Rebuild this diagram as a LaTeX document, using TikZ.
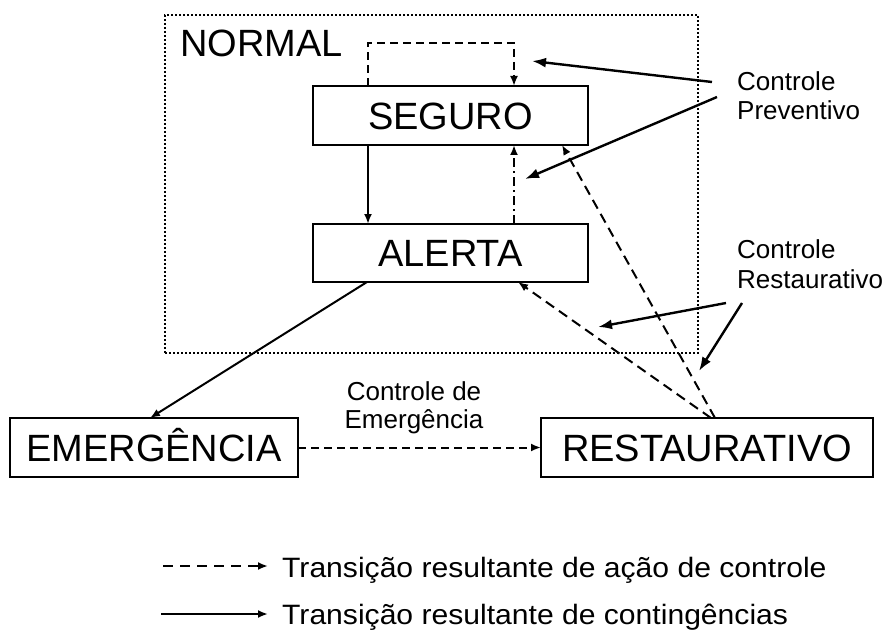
\documentclass[tikz,border=0pt]{standalone}
\usepackage{fontspec}
\setmainfont{Liberation Sans}
\newfontfamily\legfont[FakeStretch=1.075]{Liberation Sans}
\usetikzlibrary{arrows.meta,calc}
\begin{document}
\begin{tikzpicture}[x=1pt,y=-1pt,
  box/.style={draw, line width=2.8pt, inner sep=0pt, outer sep=0pt,
    text height=27.2pt, text depth=0pt, font=\fontsize{38}{40}\selectfont},
  big/.style={font=\fontsize{38}{40}\selectfont, inner sep=0pt},
  small/.style={font=\fontsize{26}{29}\selectfont, inner sep=0pt},
  leg/.style={font=\legfont\fontsize{28}{30}\selectfont, inner sep=0pt},
  arr/.style={line width=2pt, -{Latex[length=10pt,width=8pt]}},
  bigarr/.style={line width=2.4pt, -{Latex[length=14pt,width=10pt]}},
  dsh/.style={dash pattern=on 8pt off 5pt},
  longdsh/.style={dash pattern=on 10pt off 6pt},
  dashdot/.style={dash pattern=on 9pt off 4pt on 2pt off 4pt},
  dotbox/.style={draw, line width=2pt, dash pattern=on 2pt off 2pt, inner sep=0pt, outer sep=0pt}
]
\useasboundingbox (0,0) rectangle (888,631);

% NORMAL region
\node[dotbox, minimum width=533pt, minimum height=338pt] (normal) at (431.5,184) {};
\node[big, anchor=base west] (normaltxt) at (180,57) {NORMAL};

% states
\node[box, minimum width=275pt, minimum height=59pt] (seg) at (450.5,115.5) {SEGURO};
\node[box, minimum width=275pt, minimum height=58pt] (ale) at (450.5,253) {ALERTA};
\node[box, minimum width=288pt, minimum height=59pt] (eme) at (154,447.5) {EMERGÊNCIA};
\node[box, minimum width=332pt, minimum height=59pt] (res) at (707,447.5) {RESTAURATIVO};

% labels
\node[small, anchor=base west] (cp1) at (737,91) {Controle};
\node[small, anchor=base west] (cp2) at (737,120) {Preventivo};
\node[small, anchor=base west] (cr1) at (737,258) {Controle};
\node[small, anchor=base west] (cr2) at (737,288) {Restaurativo};
\node[small, anchor=base] (ce1) at (414,400) {Controle de};
\node[small, anchor=base] (ce2) at (414,428) {Emergência};

% transitions
\draw[arr, dsh] ([xshift=55pt]seg.north west) |- ($(seg.north west)+(201,-43)$) -- ([xshift=201pt]seg.north west);
\draw[arr] ([xshift=55pt]seg.south west) -- ([xshift=55pt]ale.north west);
\draw[arr, dashdot] ([xshift=201pt]ale.north west) -- ([xshift=201pt]seg.south west);
\draw[arr] ([xshift=54pt]ale.south west) -- ([xshift=140pt]eme.north west);
\draw[arr, dsh] (eme.east) -- (res.west);
\draw[arr, longdsh] ([xshift=174pt]res.north west) -- ([xshift=-26pt]seg.south east);
\draw[arr, longdsh] ([xshift=170pt]res.north west) -- ([xshift=205pt]ale.south west);

% control pointers
\coordinate (pA0) at (712,82);  \coordinate (pA1) at (532,61);
\coordinate (pB0) at (717,97);  \coordinate (pB1) at (525,179);
\coordinate (rA0) at (726,303); \coordinate (rA1) at (598,327);
\coordinate (rB0) at (742,303); \coordinate (rB1) at (699,371);
\draw[bigarr] (pA0) -- (pA1);
\draw[bigarr] (pB0) -- (pB1);
\draw[bigarr] (rA0) -- (rA1);
\draw[bigarr] (rB0) -- (rB1);

% legend
\coordinate (l1a) at (163,566); \coordinate (l1b) at (268,566);
\coordinate (l2a) at (161,614); \coordinate (l2b) at (268,614);
\draw[arr, dash pattern=on 10pt off 7pt] (l1a) -- (l1b);
\draw[arr] (l2a) -- (l2b);
\node[leg, anchor=base west] (lt1) at (282,577) {Transição resultante de ação de controle};
\node[leg, anchor=base west] (lt2) at (282,624) {Transição resultante de contingências};
\end{tikzpicture}
\end{document}
